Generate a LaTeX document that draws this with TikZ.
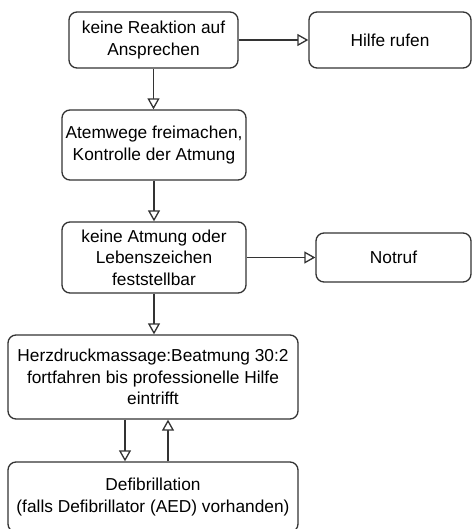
\documentclass[tikz,border=0pt]{standalone}
\usepackage{fontspec}
\setmainfont{Liberation Sans}
\usetikzlibrary{arrows.meta,calc}
\definecolor{ln}{HTML}{333333}
\begin{document}
\begin{tikzpicture}[x=1pt,y=-1pt,
  box/.style={draw=ln, line width=1.3pt, rounded corners=8pt, rectangle, inner sep=0pt,
    align=center, font=\fontsize{17.3}{21.5}\selectfont, text=black},
  arr/.style={draw=ln, line width=1.3pt, -{Triangle[length=11pt, width=12pt, fill=white, line width=1.3pt]}}]
\useasboundingbox (0,0) rectangle (472,529);
\begin{scope}
\clip (0,0) rectangle (472,529);
\node[box, minimum width=169pt, minimum height=56pt] (b1) at (153.5,40) {keine Reaktion auf\\Ansprechen};
\node[box, minimum width=162pt, minimum height=56pt] (hr) at (390,40) {Hilfe rufen};
\node[box, minimum width=184pt, minimum height=70pt] (b2) at (154,145) {Atemwege freimachen,\\Kontrolle der Atmung};
\node[box, minimum width=184pt, minimum height=71pt] (b3) at (154,257.5) {keine Atmung oder\\Lebenszeichen\\feststellbar};
\node[box, minimum width=155pt, minimum height=49pt] (nr) at (393.5,257.5) {Notruf};
\node[box, minimum width=290pt, minimum height=84pt] (b4) at (153,377) {Herzdruckmassage:Beatmung 30:2\\fortfahren bis professionelle Hilfe\\eintrifft};
\node[box, minimum width=290pt, minimum height=70pt] (b5) at (153,497) {Defibrillation\\(falls Defibrillator (AED) vorhanden)};
\end{scope}
\draw[arr] (b1.east) -- (hr.west);
\draw[arr] (b1.south) -- (b1.south |- b2.north);
\draw[arr] (b2.south) -- (b3.north);
\draw[arr] (b3.east) -- (b3.east -| nr.west);
\draw[arr] (b3.south) -- (b3.south |- b4.north);
\draw[arr] ($(b4.south)+(-28,0)$) -- ($(b5.north)+(-28,0)$);
\draw[arr] ($(b5.north)+(15,0)$) -- ($(b4.south)+(15,0)$);
\end{tikzpicture}
\end{document}
